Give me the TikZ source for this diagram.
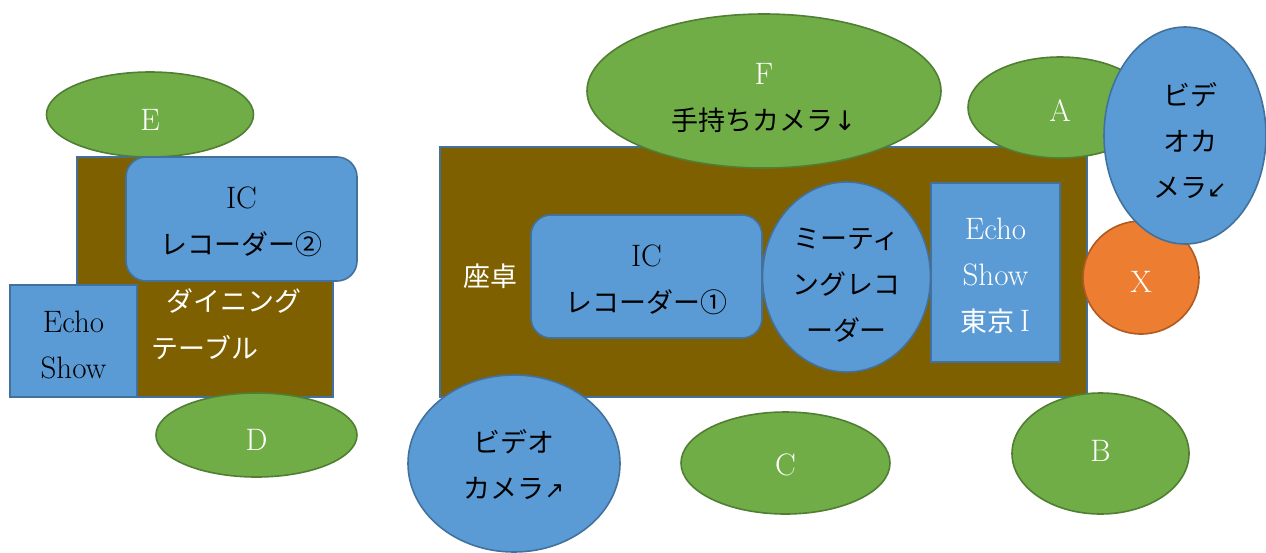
\documentclass[tikz,border=0pt]{standalone}
\usepackage{fontspec}
\newfontfamily\jp[Scale=0.87]{Noto Sans CJK JP}
\newfontfamily\dv[Scale=0.87]{DejaVu Sans}
\usetikzlibrary{shapes.geometric}
\definecolor{gfill}{HTML}{70AD47}
\definecolor{gline}{HTML}{507E32}
\definecolor{bfill}{HTML}{5B9BD5}
\definecolor{bline}{HTML}{41719C}
\definecolor{tfill}{HTML}{7F6000}
\definecolor{ofill}{HTML}{ED7D31}
\definecolor{oline}{HTML}{AE5A21}
\tikzset{
  base/.style={line width=1.6pt, inner sep=0pt, font=\fontsize{31}{46}\selectfont, align=center},
  seat/.style={base, ellipse, draw=gline, fill=gfill, text=white},
  cam/.style={base, ellipse, draw=bline, fill=bfill, text=black},
  orng/.style={base, ellipse, draw=oline, fill=ofill, text=white},
  rdev/.style={base, rectangle, rounded corners=20pt, draw=bline, fill=bfill, text=black},
  sdev/.style={base, rectangle, draw=bline, fill=bfill},
  tbl/.style={base, rectangle, draw=bline, fill=tfill},
  lbl/.style={base, text=white},
  dlbl/.style={base, text=black}
}
\newcommand{\smarrow}[1]{{\dv\fontsize{27}{46}\selectfont #1}}
\begin{document}
\begin{tikzpicture}[x=1pt,y=-1pt]
\useasboundingbox (0,0) rectangle (1266,552);
% left dining table
\node[tbl, minimum width=256pt, minimum height=240pt] (dtable) at (205,277) {};
\node[seat, minimum width=207pt, minimum height=85pt] (E) at (150,114.5) {};
\node[lbl] (Et) at ([yshift=-5pt]E.center) {E};
\node[rdev, minimum width=231pt, minimum height=124pt] (ic2) at (241.5,219) {};
\node[dlbl] (ic2t) at ([yshift=-3pt]ic2.center) {IC\\{\jp レコーダー②}};
\node[sdev, minimum width=127pt, minimum height=112pt] (echoL) at (73.5,341) {};
\node[dlbl] (echoLt) at ([yshift=-4pt]echoL.center) {Echo\\Show};
\node[seat, minimum width=201pt, minimum height=84pt] (D) at (256.5,435) {};
\node[lbl] (Dt) at ([yshift=-5pt]D.center) {D};
\node[lbl] (din1) at (234,301) {\jp ダイニング};
\node[lbl] (din2) at (205,348) {\jp テーブル};
% main low table
\node[tbl, minimum width=647pt, minimum height=250pt] (ztable) at (763.5,272) {};
\node[lbl] (zlabel) at (490,276) {\jp 座卓};
\node[rdev, minimum width=231pt, minimum height=123pt] (ic1) at (646.5,276.5) {};
\node[dlbl] (ic1t) at ([yshift=-3pt]ic1.center) {IC\\{\jp レコーダー①}};
\node[cam, minimum width=168pt, minimum height=190pt] (meet) at (846.5,277) {};
\node[dlbl] (meett) at ([yshift=-8pt]meet.center) {\jp ミーティ\\\jp ングレコ\\\jp ーダー};
\node[sdev, minimum width=129pt, minimum height=179pt] (echoT) at (995.5,272.5) {};
\node[lbl] (echoTt) at ([yshift=-3pt]echoT.center) {Echo\\Show\\{\jp 東京}\,I};
\node[seat, minimum width=354pt, minimum height=154pt] (F) at (764,91) {};
\node[lbl] (Ft) at ([yshift=-7pt]F.center) {F\\\textcolor{black}{\jp 手持ちカメラ{\dv ↓}}};
\node[seat, minimum width=184pt, minimum height=101pt] (A) at (1060,107.5) {};
\node[lbl] (At) at ([yshift=-3pt]A.center) {A};
\node[orng, minimum width=116pt, minimum height=113pt] (X) at (1141,277.5) {};
\node[lbl] (Xt) at ([yshift=-4pt]X.center) {X};
\node[cam, minimum width=162pt, minimum height=217pt] (vcTR) at (1185,135.5) {};
\node[dlbl] (vcTRt) at ([yshift=-5pt,xshift=5pt]vcTR.center) {\jp ビデ\\\jp オカ\\{\jp メラ}\smarrow{↙}};
\node[seat, minimum width=177pt, minimum height=121pt] (B) at (1100.5,453.5) {};
\node[lbl] (Bt) at ([yshift=3pt]B.center) {B};
\node[seat, minimum width=209pt, minimum height=102pt] (C) at (785.5,463) {};
\node[lbl] (Ct) at ([yshift=-2pt]C.center) {C};
\node[cam, minimum width=212pt, minimum height=177pt] (vcBL) at (514,463.5) {};
\node[dlbl] (vcBLt) at ([yshift=-1pt]vcBL.center) {\jp ビデオ\\{\jp カメラ}\smarrow{↗}};
\end{tikzpicture}
\end{document}
